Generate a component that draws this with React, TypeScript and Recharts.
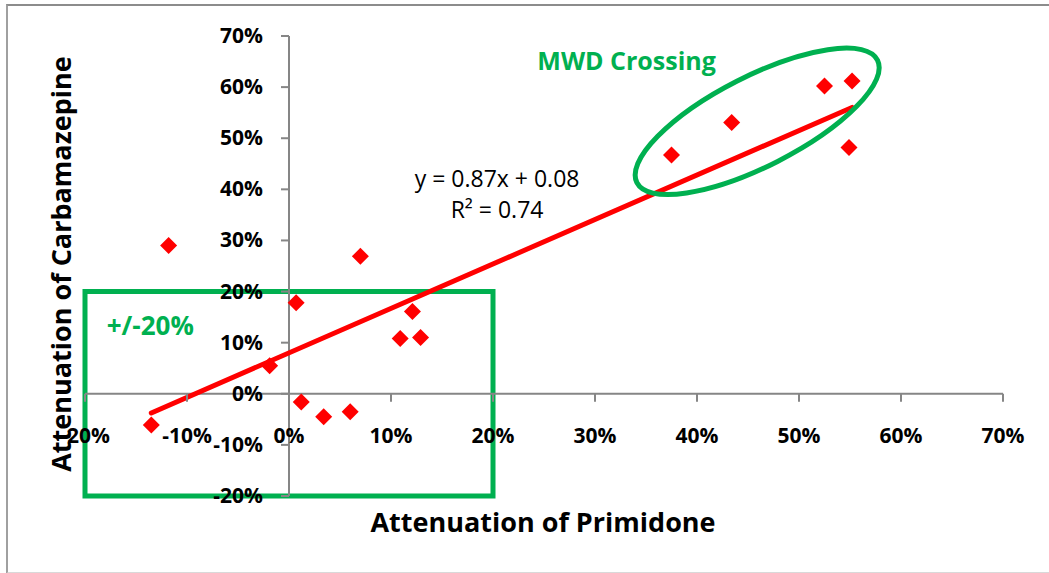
import React from 'react';
import { ScatterChart, Scatter, XAxis, YAxis, ReferenceLine, ReferenceArea, ReferenceDot } from 'recharts';

// attenuation values, one entry per sample
const primidone = [-0.135, -0.118, -0.019, 0.007, 0.012, 0.034, 0.06, 0.07, 0.109, 0.121, 0.129, 0.375, 0.434, 0.525, 0.552, 0.549];
const carbamazepine = [-0.061, 0.29, 0.055, 0.178, -0.016, -0.045, -0.035, 0.269, 0.108, 0.161, 0.11, 0.467, 0.531, 0.602, 0.612, 0.482];

const xTicks = [-0.2, -0.1, 0, 0.1, 0.2, 0.3, 0.4, 0.5, 0.6, 0.7];
const yTicks = [-0.2, -0.1, 0, 0.1, 0.2, 0.3, 0.4, 0.5, 0.6, 0.7];

// linear fit shown on the chart
const slope = 0.87;
const intercept = 0.08;
const rSquared = 0.74;

// MWD crossing group centre
const mwdCentre = { x: 0.459, y: 0.533 };

const points = primidone.map((x, i) => ({ x, y: carbamazepine[i] }));
const xMin = Math.min(...primidone);
const xMax = Math.max(...primidone);

const FONT = '"Open Sans", sans-serif';
const GREEN = '#00B050';
const RED = '#FF0000';
const AXIS = '#868686';

const pct = (v: number) => `${Math.round(v * 100)}%`;

const Diamond = ({ cx, cy }: any) => (
  <polygon
    points={`${cx},${cy - 8.5} ${cx + 8.5},${cy} ${cx},${cy + 8.5} ${cx - 8.5},${cy}`}
    fill={RED}
  />
);

const xTick = (value: number) => ({ cx, cy }: any) => (
  <g>
    <line x1={cx} y1={cy} x2={cx} y2={cy + 8} stroke={AXIS} strokeWidth={2} />
    <text x={cx} y={cy + 49} textAnchor="middle" fontFamily={FONT} fontWeight={700} fontSize={21} fill="#000">
      {pct(value)}
    </text>
  </g>
);

const yTick = (value: number) => ({ cx, cy }: any) => (
  <g>
    <line x1={cx - 8} y1={cy} x2={cx} y2={cy} stroke={AXIS} strokeWidth={2} />
    <text x={cx - 26} y={cy + 7} textAnchor="end" fontFamily={FONT} fontWeight={700} fontSize={21} fill="#000">
      {pct(value)}
    </text>
  </g>
);

const note = (text: string, opts: { size: number; bold?: boolean; color?: string }) => ({ cx, cy }: any) => (
  <text
    x={cx}
    y={cy + opts.size * 0.36}
    textAnchor="middle"
    fontFamily={FONT}
    fontWeight={opts.bold ? 700 : 400}
    fontSize={opts.size}
    fill={opts.color ?? '#000'}
  >
    {text}
  </text>
);

const MwdEllipse = ({ cx, cy }: any) => (
  <ellipse
    cx={cx}
    cy={cy}
    rx={135}
    ry={45}
    transform={`rotate(-27 ${cx} ${cy})`}
    fill="none"
    stroke={GREEN}
    strokeWidth={5}
  />
);

const titleStyle: React.CSSProperties = {
  position: 'absolute',
  height: 28,
  lineHeight: '28px',
  textAlign: 'center',
  fontFamily: FONT,
  fontWeight: 700,
  fontSize: 27,
  color: '#000',
  whiteSpace: 'nowrap',
};

export default function App() {
  return (
    <div style={{ position: 'absolute', left: 0, top: 0, width: 1049, height: 573, overflow: 'hidden', background: '#fff' }}>
      <div
        style={{
          position: 'absolute',
          left: 6,
          top: 4,
          width: 1100,
          height: 566,
          borderTop: '2px solid #8c8c8c',
          borderLeft: '2px solid #a0a0a0',
          borderBottom: '2px solid #d9d9d9',
        }}
      />
      <div style={{ position: 'absolute', left: 0, top: 0 }}>
        <ScatterChart width={1049} height={573} margin={{ top: 36, right: 46, bottom: 77, left: 85 }}>
          <XAxis type="number" dataKey="x" domain={[-0.2, 0.7]} hide />
          <YAxis type="number" dataKey="y" domain={[-0.2, 0.7]} hide />

          <ReferenceLine y={0} stroke={AXIS} strokeWidth={2} />
          <ReferenceLine x={0} stroke={AXIS} strokeWidth={2} />
          {xTicks.map((t) => (
            <ReferenceDot key={`x${t}`} x={t} y={0} r={0} shape={xTick(t)} />
          ))}
          {yTicks.map((t) => (
            <ReferenceDot key={`y${t}`} x={0} y={t} r={0} shape={yTick(t)} />
          ))}

          <ReferenceArea x1={-0.2} x2={0.2} y1={-0.2} y2={0.2} fill="none" fillOpacity={0} stroke={GREEN} strokeWidth={5} />
          <ReferenceDot x={mwdCentre.x} y={mwdCentre.y} r={0} shape={MwdEllipse} />

          <Scatter data={points} shape={Diamond} isAnimationActive={false} />

          <ReferenceLine
            segment={[
              { x: xMin, y: slope * xMin + intercept },
              { x: xMax, y: slope * xMax + intercept },
            ]}
            stroke={RED}
            strokeWidth={5}
            strokeLinecap="round"
          />

          <ReferenceDot x={0.331} y={0.651} r={0} shape={note('MWD Crossing', { size: 25, bold: true, color: GREEN })} />
          <ReferenceDot x={-0.136} y={0.133} r={0} shape={note('+/-20%', { size: 26, bold: true, color: GREEN })} />
          <ReferenceDot
            x={0.204}
            y={0.42}
            r={0}
            shape={note(`y = ${slope.toFixed(2)}x + ${intercept.toFixed(2)}`, { size: 23 })}
          />
          <ReferenceDot x={0.204} y={0.361} r={0} shape={note(`R² = ${rSquared.toFixed(2)}`, { size: 23 })} />
        </ScatterChart>
      </div>
      <div style={{ ...titleStyle, left: 343, top: 508, width: 400 }}>Attenuation of Primidone</div>
      <div style={{ ...titleStyle, left: 61 - 240, top: 264 - 14, width: 480, transform: 'rotate(-90deg)' }}>
        Attenuation of Carbamazepine
      </div>
    </div>
  );
}
